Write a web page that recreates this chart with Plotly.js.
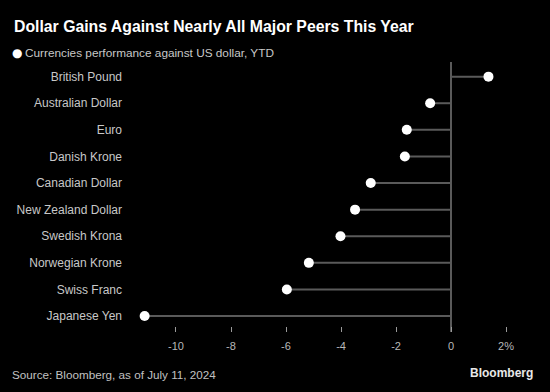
<!DOCTYPE html>
<html>
<head>
<meta charset="utf-8">
<script src="https://cdn.plot.ly/plotly-3.0.1.min.js"></script>
<style>html,body{margin:0;padding:0;background:#000;}#chart{width:550px;height:392px;}</style>
</head>
<body>
<div id="chart"></div>
<script>
const currencies = ["British Pound","Australian Dollar","Euro","Danish Krone","Canadian Dollar","New Zealand Dollar","Swedish Krona","Norwegian Krone","Swiss Franc","Japanese Yen"];
const ytdChange = [1.36,-0.76,-1.61,-1.68,-2.92,-3.49,-4.02,-5.17,-5.97,-11.14];
const xTickValues = [-10,-8,-6,-4,-2,0,2];
const xTickLabels = ["-10","-8","-6","-4","-2","0","2%"];

// stems from 0 to each value
const stemX = [], stemY = [];
currencies.forEach((c,i)=>{ stemX.push(0, ytdChange[i], null); stemY.push(c, c, null); });

const font = "Liberation Sans, Arial, sans-serif";
const data = [
  {type:'scatter', mode:'lines', x:stemX, y:stemY, line:{color:'#5a5a5a', width:2}, hoverinfo:'skip', showlegend:false},
  {type:'scatter', mode:'markers', x:ytdChange, y:currencies, marker:{color:'#ffffff', size:10}, showlegend:false}
];
const layout = {
  width:550, height:392,
  paper_bgcolor:'#000', plot_bgcolor:'#000',
  margin:{l:135, r:20, t:62, b:60},
  font:{family:font, color:'#c8c8c8', size:12},
  xaxis:{range:[-11.49, 2.87], tickvals:xTickValues, ticktext:xTickLabels, showgrid:false,
         zeroline:true, zerolinecolor:'#5a5a5a', zerolinewidth:2, showline:false,
         ticks:'inside', ticklen:5, tickcolor:'#9a9a9a', tickwidth:1, ticklabelstandoff:6,
         tickfont:{size:11, color:'#b8b8b8', family:font}, fixedrange:true},
  yaxis:{type:'category', categoryorder:'array', categoryarray:currencies, range:[9.6,-0.55],
         showgrid:false, zeroline:false, showline:false, ticks:'', ticklabelstandoff:12,
         tickfont:{size:12, color:'#c8c8c8', family:font}, fixedrange:true},
  annotations:[
    {xref:'paper', yref:'paper', x:0, y:1, xanchor:'left', yanchor:'middle', showarrow:false,
     text:'<b>Dollar Gains Against Nearly All Major Peers This Year</b>', font:{size:15.8, color:'#ffffff', family:font},
     xshift:-123, yshift:-26+62},
    {xref:'paper', yref:'paper', x:0, y:1, xanchor:'center', yanchor:'middle', showarrow:false,
     text:'●', font:{size:12, color:'#ffffff', family:"DejaVu Sans, sans-serif"},
     xshift:-135+17, yshift:62-53},
    {xref:'paper', yref:'paper', x:0, y:1, xanchor:'left', yanchor:'middle', showarrow:false,
     text:'Currencies performance against US dollar, YTD', font:{size:11.8, color:'#c8c8c8', family:font},
     xshift:-135+23, yshift:62-53},
    {xref:'paper', yref:'paper', x:0, y:0, xanchor:'left', yanchor:'middle', showarrow:false,
     text:'Source: Bloomberg, as of July 11, 2024', font:{size:11.7, color:'#c0c0c0', family:font},
     xshift:-125, yshift:-(374-332)},
    {xref:'paper', yref:'paper', x:1, y:0, xanchor:'right', yanchor:'middle', showarrow:false,
     text:'<b>Bloomberg</b>', font:{size:12, color:'#e8e8e8', family:font},
     xshift:5, yshift:-(373-332)}
  ]
};
Plotly.newPlot('chart', data, layout, {displayModeBar:false, staticPlot:true});
</script>
</body>
</html>
